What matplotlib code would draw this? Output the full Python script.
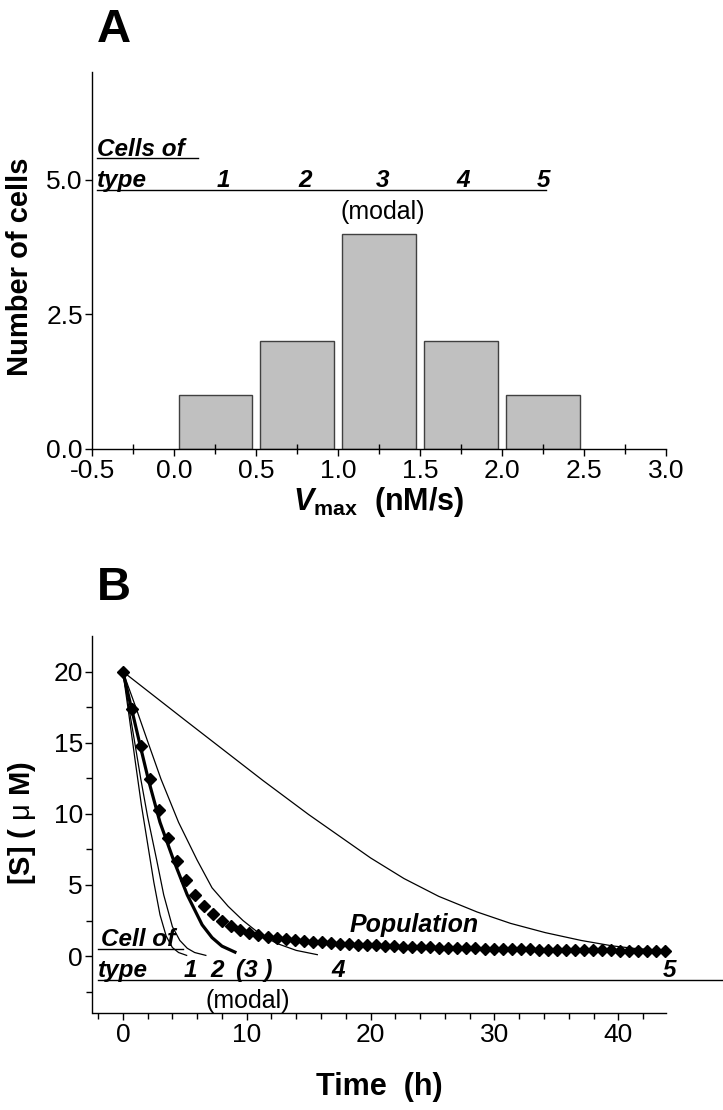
import numpy as np
import matplotlib
matplotlib.use('Agg')
import matplotlib.pyplot as plt
from matplotlib import font_manager
from matplotlib.ticker import MultipleLocator, FixedLocator

names = {f.name for f in font_manager.fontManager.ttflist}
FONT = 'Liberation Sans' if 'Liberation Sans' in names else 'DejaVu Sans'
plt.rcParams['font.family'] = [FONT, 'DejaVu Sans']
plt.rcParams['mathtext.fontset'] = 'custom'
plt.rcParams['mathtext.rm'] = FONT
plt.rcParams['mathtext.bf'] = FONT + ':bold'
plt.rcParams['mathtext.it'] = FONT + ':italic'
plt.rcParams['mathtext.bfit'] = FONT + ':italic:bold'

# ---- panel A: distribution of Vmax ----
vmax_bins = [0.25, 0.75, 1.25, 1.75, 2.25]
cell_counts = [1, 2, 4, 2, 1]
type_labels = ['1', '2', '3', '4', '5']
type_label_x = [0.3, 0.8, 1.27, 1.76, 2.25]

# ---- panel B: substrate depletion per cell type ----
t1 = [0, 0.5, 1.0, 1.5, 2.0, 2.5, 3.0, 3.5, 4.0, 4.5, 5.15]
s1 = [20, 16.9, 13.7, 10.6, 7.9, 5.2, 2.9, 1.4, 0.6, 0.25, 0.05]
t2 = [0, 0.5, 1.0, 1.45, 2.0, 2.73, 3.3, 4.0, 4.6, 5.2, 5.8, 6.7]
s2 = [20, 17.4, 14.8, 12.44, 9.8, 6.76, 4.3, 2.07, 1.1, 0.55, 0.25, 0.05]
t3 = [0, 0.7, 1.4, 2.05, 3.0, 4.09, 5.2, 6.4, 7.2, 8.0, 9.05]
s3 = [20, 17.4, 14.8, 12.44, 9.4, 6.76, 4.3, 2.2, 1.3, 0.7, 0.28]
t4 = [0, 1.0, 2.0, 3.08, 4.5, 5.99, 7.2, 8.5, 9.7, 11.0, 12.4, 14.0, 15.7]
s4 = [20, 17.6, 15.1, 12.44, 9.4, 6.76, 4.8, 3.5, 2.5, 1.6, 0.9, 0.4, 0.1]
t5 = [0, 5.0, 11.3, 15.0, 20.0, 22.7, 25.5, 28.6, 31.3, 34.1, 37.0, 39.5, 41.5, 43.7]
s5 = [20, 16.6, 12.35, 9.95, 6.9, 5.45, 4.2, 3.1, 2.3, 1.65, 1.1, 0.72, 0.52, 0.4]

pop_t = [0.0, 0.73, 1.46, 2.19, 2.92, 3.65, 4.38, 5.11, 5.84, 6.57,
         7.3, 8.03, 8.76, 9.49, 10.22, 10.95, 11.68, 12.41, 13.14, 13.87,
         14.6, 15.33, 16.06, 16.79, 17.52, 18.25, 18.98, 19.71, 20.44, 21.17,
         21.9, 22.63, 23.36, 24.09, 24.82, 25.55, 26.28, 27.01, 27.74, 28.47,
         29.2, 29.93, 30.66, 31.39, 32.12, 32.85, 33.58, 34.31, 35.04, 35.77,
         36.5, 37.23, 37.96, 38.69, 39.42, 40.15, 40.88, 41.61, 42.34, 43.07, 43.8]
pop_s = [20, 17.4, 14.8, 12.45, 10.25, 8.3, 6.7, 5.35, 4.3, 3.55,
         2.95, 2.5, 2.15, 1.85, 1.62, 1.46, 1.35, 1.26, 1.18, 1.12,
         1.06, 1.01, 0.96, 0.92, 0.88, 0.84, 0.81, 0.78, 0.75, 0.72,
         0.70, 0.67, 0.65, 0.63, 0.61, 0.59, 0.58, 0.56, 0.55, 0.54,
         0.52, 0.51, 0.50, 0.49, 0.48, 0.47, 0.46, 0.45, 0.44, 0.43,
         0.42, 0.42, 0.41, 0.40, 0.40, 0.39, 0.39, 0.38, 0.38, 0.37, 0.37]

W, H = 723, 1110
fig = plt.figure(figsize=(W / 100, H / 100), dpi=100)


def style_axes(ax):
    for side in ['top', 'right']:
        ax.spines[side].set_visible(False)
    for side in ['left', 'bottom']:
        ax.spines[side].set_linewidth(1.0)
    ax.tick_params(which='major', direction='out', length=5, width=1, labelsize=19, pad=2)
    ax.tick_params(which='minor', direction='out', length=4, width=1)


# ---------------- panel A ----------------
axA = fig.add_axes([92.5 / W, 1 - 449 / H, 573.5 / W, 377 / H])
style_axes(axA)
axA.bar(vmax_bins, cell_counts, width=0.45, color='#c0c0c0', edgecolor='#404040', linewidth=1)
axA.set_xlim(-0.5, 3.0)
axA.set_ylim(0, 7)
axA.set_xticks(np.arange(-0.5, 3.01, 0.5))
axA.set_xticklabels(['%.1f' % v for v in np.arange(-0.5, 3.01, 0.5)])
axA.xaxis.set_minor_locator(FixedLocator(np.arange(-0.25, 3.0, 0.5)))
axA.tick_params(axis='x', which='minor', direction='inout', length=7)
axA.set_yticks([0, 2.5, 5.0])
axA.set_yticklabels(['0.0', '2.5', '5.0'])

ann = dict(fontsize=17.5, fontweight='bold', fontstyle='italic')
axA.text(-0.47, 5.44, 'Cells of', ha='left', va='baseline', **ann)
axA.plot([-0.475, 0.145], [5.40, 5.40], color='k', lw=1, clip_on=False)
axA.text(-0.47, 4.86, 'type', ha='left', va='baseline', **ann)
axA.plot([-0.475, 2.27], [4.80, 4.80], color='k', lw=1, clip_on=False)
for x, lab in zip(type_label_x, type_labels):
    axA.text(x, 4.86, lab, ha='center', va='baseline', **ann)
axA.text(1.27, 4.4, '(modal)', ha='center', va='center', fontsize=18)

fig.text(20 / W, 1 - 267 / H, 'Number of cells', rotation=90, ha='center', va='center',
         fontsize=21, fontweight='bold')
fig.text(379 / W, 1 - 502 / H, r'$\mathbfit{V}_{\mathbf{max}}\ \ \mathbf{(nM/s)}$',
         ha='center', va='center', fontsize=22)
fig.text(97 / W, 1 - 42 / H, 'A', fontsize=34, fontweight='bold', va='baseline')

# ---------------- panel B ----------------
axB = fig.add_axes([92.5 / W, 1 - 1013 / H, 573.5 / W, 377 / H])
style_axes(axB)
for t, s in [(t1, s1), (t2, s2), (t4, s4), (t5, s5)]:
    axB.plot(t, s, color='k', lw=0.9)
axB.plot(t3, s3, color='k', lw=2.3)
axB.plot(pop_t, pop_s, linestyle='none', marker='D', ms=5.8, color='k', clip_on=False)

axB.set_xlim(-2.45, 43.85)
axB.set_ylim(-4, 22.5)
axB.set_xticks([0, 10, 20, 30, 40])
axB.xaxis.set_minor_locator(MultipleLocator(2))
axB.set_yticks([0, 5, 10, 15, 20])
axB.yaxis.set_minor_locator(FixedLocator([-2.5, 2.5, 7.5, 12.5, 17.5]))

axB.text(-1.8, 0.7, 'Cell of', ha='left', va='baseline', **ann)
axB.plot([-2.0, 4.87], [0.52, 0.52], color='k', lw=1, clip_on=False)
axB.text(-2.0, -1.5, 'type', ha='left', va='baseline', **ann)
axB.plot([-2.0, 48.7], [-1.69, -1.69], color='k', lw=1, clip_on=False)
for x, lab in zip([5.47, 7.62, 10.64, 17.4, 44.1], ['1', '2', '(3 )', '4', '5']):
    axB.text(x, -1.5, lab, ha='center', va='baseline', clip_on=False, **ann)
axB.text(10.1, -3.17, '(modal)', ha='center', va='center', fontsize=18)
axB.text(23.5, 1.67, 'Population', ha='center', va='baseline', fontsize=18,
         fontweight='bold', fontstyle='italic')

fig.text(22 / W, 1 - 823 / H, r'$\mathbf{[S]\ (}\ \mathrm{\mu}\ \mathbf{M)}$', rotation=90,
         ha='center', va='center', fontsize=21)
fig.text(379 / W, 1 - 1087 / H, 'Time  (h)', ha='center', va='center', fontsize=22,
         fontweight='bold')
fig.text(97 / W, 1 - 600 / H, 'B', fontsize=34, fontweight='bold', va='baseline')

fig.savefig('out.png', dpi=100)
